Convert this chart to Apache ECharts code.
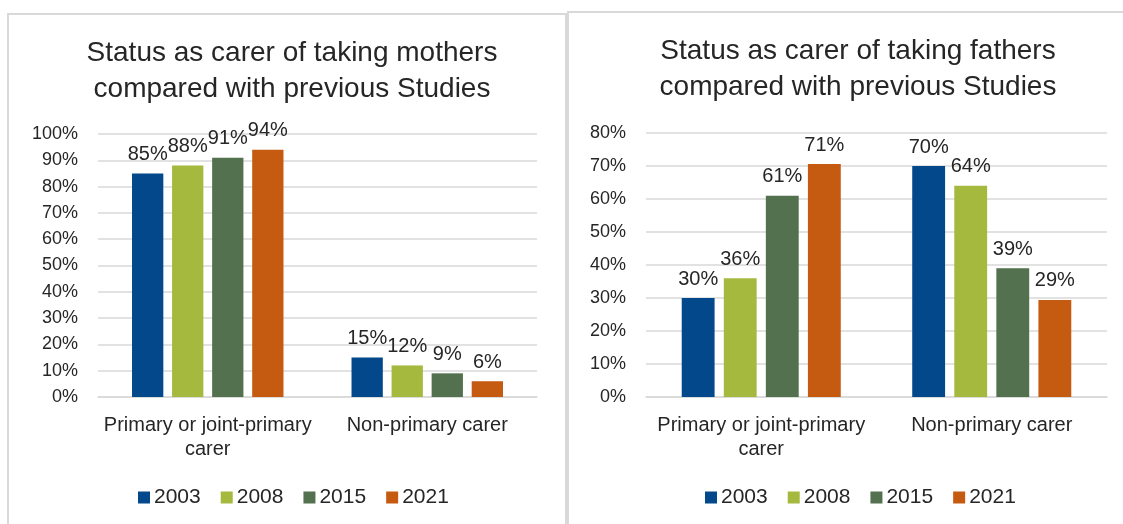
<!DOCTYPE html>
<html>
<head>
<meta charset="utf-8">
<script src="https://cdn.jsdelivr.net/npm/echarts@6/dist/echarts.min.js"></script>
<style>
html,body{margin:0;padding:0;background:#fff;}
#c{width:1123px;height:524px;}
</style>
</head>
<body>
<div id="c"></div>
<script>
const categories = ['Primary or joint-primary\ncarer', 'Non-primary carer'];
const years = ['2003', '2008', '2015', '2021'];
const mothers2003 = [85, 15];
const mothers2008 = [88, 12];
const mothers2015 = [91, 9];
const mothers2021 = [94, 6];
const fathers2003 = [30, 70];
const fathers2008 = [36, 64];
const fathers2015 = [61, 39];
const fathers2021 = [70.6, 29.4];
const mothersTicksMax = 100;
const fathersTicksMax = 80;

const colors = ['#03488A', '#A5B93E', '#53714E', '#C55A11'];
const FONT = 'Liberation Sans, Arial, sans-serif';
const TXT = '#262626';

const mothersData = [mothers2003, mothers2008, mothers2015, mothers2021];
const fathersData = [fathers2003, fathers2008, fathers2015, fathers2021];

function makeSeries(dataSets, idx) {
  return dataSets.map((d, i) => ({
    name: years[i],
    type: 'bar',
    xAxisIndex: idx,
    yAxisIndex: idx,
    data: d,
    itemStyle: { color: colors[i] },
    barCategoryGap: '31%',
    barGap: '28%',
    label: {
      show: true,
      position: 'top',
      distance: 9,
      fontFamily: FONT,
      fontSize: 20,
      color: TXT,
      formatter: p => Math.round(p.value) + '%'
    }
  }));
}

function xAx(idx) {
  return {
    type: 'category', gridIndex: idx, data: categories,
    axisTick: { show: false },
    axisLine: { lineStyle: { color: '#d9d9d9', width: 1.5 } },
    axisLabel: { fontFamily: FONT, fontSize: 20, color: TXT, margin: 16, lineHeight: 24, interval: 0 }
  };
}
function yAx(idx, max) {
  return {
    type: 'value', gridIndex: idx, min: 0, max: max, interval: 10,
    axisLine: { show: false }, axisTick: { show: false },
    splitLine: { lineStyle: { color: '#d9d9d9', width: 1.5 } },
    axisLabel: { fontFamily: FONT, fontSize: 18, color: TXT, margin: 20, formatter: '{value}%' }
  };
}

const chart = echarts.init(document.getElementById('c'), null, { renderer: 'canvas' });
chart.setOption({
  backgroundColor: '#fff',
  animation: false,
  title: [
    { text: 'Status as carer of taking mothers\ncompared with previous Studies', left: 287, textAlign: 'center', top: 30,
      textStyle: { fontFamily: FONT, fontSize: 28, fontWeight: 'normal', color: TXT, lineHeight: 36 } },
    { text: 'Status as carer of taking fathers\ncompared with previous Studies', left: 853, textAlign: 'center', top: 28,
      textStyle: { fontFamily: FONT, fontSize: 28, fontWeight: 'normal', color: TXT, lineHeight: 36 } }
  ],
  legend: [
    { data: years, left: 133, top: 482, itemWidth: 12, itemHeight: 12, itemGap: 20, icon: 'rect',
      textStyle: { fontFamily: FONT, fontSize: 21, color: TXT, padding: [0, 0, 0, -1] } },
    { data: years, left: 700, top: 482, itemWidth: 12, itemHeight: 12, itemGap: 20, icon: 'rect',
      textStyle: { fontFamily: FONT, fontSize: 21, color: TXT, padding: [0, 0, 0, -1] } }
  ],
  grid: [
    { left: 98, width: 439, top: 134, height: 263 },
    { left: 646, width: 461, top: 133, height: 264 }
  ],
  xAxis: [xAx(0), xAx(1)],
  yAxis: [yAx(0, mothersTicksMax), yAx(1, fathersTicksMax)],
  series: makeSeries(mothersData, 0).concat(makeSeries(fathersData, 1)),
  graphic: [
    { type: 'rect', shape: { x: 8, y: 14, width: 558, height: 530 }, style: { fill: 'none', stroke: '#d9d9d9', lineWidth: 2 }, silent: true },
    { type: 'rect', shape: { x: 568, y: 12, width: 570, height: 530 }, style: { fill: 'none', stroke: '#d9d9d9', lineWidth: 2 }, silent: true }
  ]
});
</script>
</body>
</html>
